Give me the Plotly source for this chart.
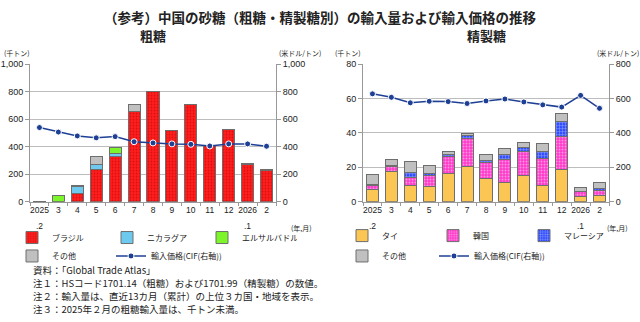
import plotly.graph_objects as go

# ---- data ----
months = ["2025.2", "2025.3", "2025.4", "2025.5", "2025.6", "2025.7", "2025.8",
          "2025.9", "2025.10", "2025.11", "2025.12", "2026.1", "2026.2"]
tick_labels = ["2025", "3", "4", "5", "6", "7", "8", "9", "10", "11", "12", "2026", "2"]
# second-line month suffix under the year ticks
year_suffix = {"2025.2": ".2", "2026.1": ".1"}

# raw sugar (thousand tonnes)
raw_brazil = [0, 0, 57, 234, 328, 655, 800, 515, 710, 405, 528, 272, 230]
raw_nicaragua = [0, 0, 51, 36, 19, 0, 0, 0, 0, 0, 0, 0, 0]
raw_elsalvador = [0, 48, 0, 0, 48, 0, 0, 0, 0, 0, 0, 0, 0]
raw_other = [0.5, 0, 7, 58, 1, 50, 0, 0, 0, 0, 0, 5, 4]
raw_price = [539, 506, 478, 464, 473, 436, 427, 420, 417, 405, 420, 420, 403]

# refined sugar (thousand tonnes)
ref_thai = [6.8, 17.5, 9.6, 8.7, 16.2, 20.4, 13.2, 11.1, 15.1, 9.2, 18.5, 3.0, 3.6]
ref_korea = [2.8, 3.2, 4.4, 6.4, 9.8, 16.4, 9.3, 13.4, 14.3, 16.1, 19.4, 2.7, 3.0]
ref_malaysia = [0.3, 0.4, 3.2, 1.5, 1.4, 1.9, 1.3, 3.0, 2.3, 3.6, 8.7, 0.5, 0.9]
ref_other = [5.9, 3.2, 6.4, 4.3, 1.5, 1.1, 3.6, 3.3, 3.0, 4.9, 4.7, 2.3, 3.6]
ref_price = [627, 607, 575, 584, 582, 571, 586, 597, 580, 563, 550, 618, 543]

price_name = "輸入価格(CIF(右軸))"

FONT = "Liberation Sans, Noto Sans CJK JP, sans-serif"
JP = "Noto Sans CJK JP, sans-serif"
OUTLINE = dict(color="#6e6e6e", width=1)
LINE_BLUE = "#1d3f94"

fig = go.Figure()


def add_bar(x, y, name, color, xa, ya, legend, pattern=None):
    marker = dict(color=color, line=OUTLINE)
    if pattern:
        marker["pattern"] = pattern
    fig.add_trace(go.Bar(x=x, y=y, name=name, marker=marker, xaxis=xa, yaxis=ya,
                         legend=legend, hoverinfo="x+y+name"))


def add_price(x, y, xa, ya, legend):
    fig.add_trace(go.Scatter(x=x, y=y, name=price_name, mode="lines+markers",
                             line=dict(color=LINE_BLUE, width=1.5),
                             marker=dict(size=6, color=LINE_BLUE, line=dict(color="white", width=1)),
                             xaxis=xa, yaxis=ya, legend=legend))


dots_dark = dict(shape=".", fgcolor="#b80000", size=3, solidity=0.35, fillmode="overlay")
dots_white = dict(shape=".", fgcolor="#ffffff", size=3, solidity=0.35, fillmode="overlay")
grid_white = dict(shape="+", fgcolor="#ffffff", size=3, solidity=0.3, fillmode="overlay")

# raw sugar panel
add_bar(months, raw_brazil, "ブラジル", "#ff1f1f", "x", "y", "legend", dots_dark)
add_bar(months, raw_nicaragua, "ニカラグア", "#6ec9ef", "x", "y", "legend")
add_bar(months, raw_elsalvador, "エルサルバドル", "#7cf62a", "x", "y", "legend")
add_bar(months, raw_other, "その他", "#c0c0c0", "x", "y", "legend2")
add_price(months, raw_price, "x", "y2", "legend5")

# refined sugar panel
add_bar(months, ref_thai, "タイ", "#fbc653", "x2", "y3", "legend3")
add_bar(months, ref_korea, "韓国", "#ff37c8", "x2", "y3", "legend3", dots_white)
add_bar(months, ref_malaysia, "マレーシア", "#2f4dff", "x2", "y3", "legend3", grid_white)
add_bar(months, ref_other, "その他", "#c0c0c0", "x2", "y3", "legend4")
add_price(months, ref_price, "x2", "y4", "legend6")

W, H = 640, 322
ydom = [(H - 203) / H, (H - 61) / H]
tickfont = dict(family=FONT, size=9, color="#222")

xcommon = dict(type="category", tickvals=months, ticktext=tick_labels, tickangle=0,
               range=[-0.5, len(months) - 0.5],
               tickfont=dict(family=FONT, size=8.5, color="#222"),
               showline=True, linecolor="#999", ticks="outside", tickson="boundaries",
               ticklen=3, tickcolor="#999", showgrid=False, fixedrange=True)
ycommon = dict(showline=True, linecolor="#999", ticks="outside", ticklen=4, tickcolor="#999",
               tickfont=tickfont, zeroline=False, fixedrange=True)


def legend_box(x, y, entry=50):
    return dict(orientation="h", font=dict(family=JP, size=8, color="#222"),
                bgcolor="rgba(0,0,0,0)", entrywidth=entry, entrywidthmode="pixels",
                traceorder="normal", xanchor="left", yanchor="middle",
                itemwidth=30, tracegroupgap=0, x=x / W, y=1 - y / H)


fig.update_layout(
    width=W, height=H, margin=dict(l=0, r=0, t=0, b=0),
    paper_bgcolor="white", plot_bgcolor="white",
    barmode="stack", bargap=0.36,
    xaxis=dict(domain=[30 / W, 276 / W], anchor="y", **xcommon),
    yaxis=dict(domain=ydom, range=[0, 1000], dtick=200, tickformat=",",
               showgrid=True, gridcolor="#bdbdbd", gridwidth=1, **ycommon),
    yaxis2=dict(overlaying="y", side="right", range=[0, 1000], dtick=200, tickformat=",",
                showgrid=False, anchor="x", **ycommon),
    xaxis2=dict(domain=[363 / W, 609 / W], anchor="y3", **xcommon),
    yaxis3=dict(domain=ydom, range=[0, 80], dtick=20, anchor="x2",
                showgrid=True, gridcolor="#bdbdbd", gridwidth=1, **ycommon),
    yaxis4=dict(overlaying="y3", side="right", range=[0, 800], dtick=200,
                showgrid=False, anchor="x2", **ycommon),
    legend=legend_box(12, 240),
    legend2=legend_box(12, 259),
    legend5=legend_box(111, 259, entry=120),
    legend3=legend_box(342, 238, entry=46),
    legend4=legend_box(342, 259),
    legend6=legend_box(434, 259, entry=120),
    showlegend=True,
)


def text(x, y, s, size=9, anchor="left", family=JP, bold=False, color="#222"):
    fig.add_annotation(x=x / W, y=1 - y / H, xref="paper", yref="paper", text=f"<b>{s}</b>" if bold else s,
                       showarrow=False, xanchor=anchor, yanchor="middle",
                       font=dict(family=family, size=size, color=color))


text(320, 12, "（参考）中国の砂糖（粗糖・精製糖別）の輸入量および輸入価格の推移", size=13.5, anchor="center", bold=True)
text(153, 31, "粗糖", size=13, anchor="center", bold=True)
text(486, 31, "精製糖", size=13, anchor="center", bold=True)

# month suffix under the year ticks, placed at the category's index on the axis
for xa in ("x", "x2"):
    for cat, suf in year_suffix.items():
        fig.add_annotation(x=months.index(cat), xref=xa, y=1 - 228 / H, yref="paper", text=suf,
                           showarrow=False, yanchor="middle",
                           font=dict(family=FONT, size=8.5, color="#222"))

# axis unit labels
text(2, 50, "(千トン)", size=7)
text(300, 50, "(米ドル/トン)", size=7, anchor="center")
text(348, 50, "(千トン)", size=7, anchor="center")
text(618, 50, "(米ドル/トン)", size=7, anchor="center")
text(301, 230, "(年,月)", size=7, anchor="center")
text(617, 230, "(年,月)", size=7, anchor="center")

# source and notes
notes = [
    "資料：「Global Trade Atlas」",
    "注１：HSコード1701.14（粗糖）および1701.99（精製糖）の数値。",
    "注２：輸入量は、直近13カ月（累計）の上位３カ国・地域を表示。",
    "注３：2025年２月の粗糖輸入量は、千トン未満。",
]
for i, line in enumerate(notes):
    text(31, 274 + i * 13.3, line, size=9.5)

fig.write_html("out.html")
